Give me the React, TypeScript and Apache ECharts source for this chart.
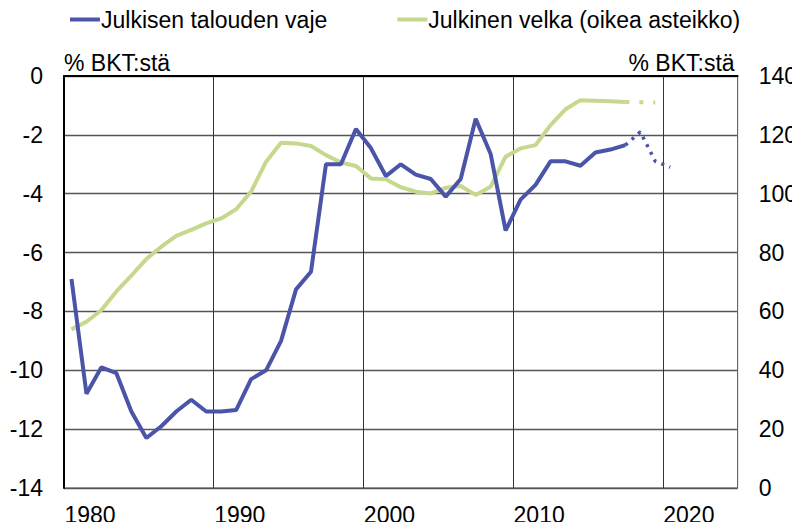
import React, { useEffect, useRef } from "react";
import * as echarts from "echarts";

const years = [
  "1980", "1981", "1982", "1983", "1984", "1985", "1986", "1987", "1988", "1989",
  "1990", "1991", "1992", "1993", "1994", "1995", "1996", "1997", "1998", "1999",
  "2000", "2001", "2002", "2003", "2004", "2005", "2006", "2007", "2008", "2009",
  "2010", "2011", "2012", "2013", "2014", "2015", "2016", "2017", "2018", "2019",
  "2020", "2021", "2022", "2023", "2024",
];

// Julkisen talouden vaje, % BKT:stä (1980–2017)
const deficit = [
  -6.9, -10.8, -9.9, -10.1, -11.4, -12.3, -11.9, -11.4, -11.0, -11.4,
  -11.4, -11.35, -10.3, -10.0, -9.0, -7.25, -6.65, -3.0, -3.0, -1.8,
  -2.45, -3.4, -3.0, -3.35, -3.5, -4.1, -3.5, -1.45, -2.65, -5.25,
  -4.2, -3.7, -2.9, -2.9, -3.05, -2.6, -2.5, -2.35,
];
// ennuste 2017–2020
const deficitForecastStart = "2017";
const deficitForecast = [-2.35, -1.9, -2.9, -3.1];

// Julkinen velka, % BKT:stä (1980–2017)
const debt = [
  53.9, 56.5, 60.5, 66.8, 72.2, 77.8, 82.0, 85.7, 87.7, 89.9,
  91.6, 94.7, 100.7, 110.9, 117.3, 117.1, 116.2, 113.1, 110.6, 109.4,
  105.2, 104.9, 102.2, 100.7, 100.1, 102.0, 102.6, 99.6, 102.4, 112.6,
  115.4, 116.5, 123.3, 128.7, 131.8, 131.6, 131.4, 131.2,
];
// ennuste 2017–2019
const debtForecastStart = "2017";
const debtForecast = [131.2, 131.1, 131.0];

const leftTicks = { min: -14, max: 0, interval: 2 };
const rightTicks = { min: 0, max: 140, interval: 20 };

const nameDeficit = "Julkisen talouden vaje";
const nameDebt = "Julkinen velka (oikea asteikko)";
const unitLabel = "% BKT:stä";

const BLUE = "#4A54A8";
const GREEN = "#C5D88E";
const FONT = "'Liberation Sans', Arial, sans-serif";

function place(values: number[], startYear: string): (number | null)[] {
  const start = years.indexOf(startYear);
  return years.map((_, i) =>
    i >= start && i - start < values.length ? values[i - start] : null
  );
}

export default function App() {
  const ref = useRef<HTMLDivElement>(null);
  useEffect(() => {
    if (!ref.current) return;
    const chart = echarts.init(ref.current, null, { renderer: "svg" });
    const textBase = { color: "#000", fontFamily: FONT, fontSize: 23 };
    chart.setOption({
      animation: false,
      backgroundColor: "#fff",
      textStyle: { fontFamily: FONT },
      legend: {
        data: [nameDeficit, nameDebt],
        left: 65,
        top: 3,
        icon: "rect",
        itemWidth: 30,
        itemHeight: 4,
        itemGap: 70,
        textStyle: { ...textBase, padding: [0, 0, 0, -4] },
      },
      grid: {
        left: 64,
        right: 60,
        top: 76,
        bottom: 42,
        show: true,
        borderColor: "#555",
        borderWidth: 1,
      },
      xAxis: {
        type: "category",
        data: years,
        boundaryGap: true,
        axisLine: { show: true, lineStyle: { color: "#000", width: 2 } },
        axisTick: { show: false },
        axisLabel: {
          ...textBase,
          interval: (i: number) => i % 10 === 0,
          align: "left",
          padding: [0, 0, 0, -7],
          margin: 15,
        },
        splitLine: {
          show: true,
          interval: (i: number) => i % 10 === 0,
          lineStyle: { color: "#333", width: 1 },
        },
      },
      yAxis: [
        {
          type: "value",
          position: "left",
          ...leftTicks,
          name: unitLabel,
          nameLocation: "end",
          nameGap: 2,
          nameTextStyle: { ...textBase, align: "left", verticalAlign: "bottom" },
          axisLine: { show: true, lineStyle: { color: "#000", width: 2 } },
          axisTick: { show: false },
          axisLabel: { ...textBase, margin: 21 },
          splitLine: { show: true, lineStyle: { color: "#555", width: 1.3 } },
        },
        {
          type: "value",
          position: "right",
          ...rightTicks,
          name: unitLabel,
          nameLocation: "end",
          nameGap: 2,
          nameTextStyle: {
            ...textBase,
            align: "right",
            verticalAlign: "bottom",
            padding: [0, 3, 0, 0],
          },
          axisLine: { show: true, lineStyle: { color: "#666", width: 1 } },
          axisTick: { show: false },
          axisLabel: { ...textBase, margin: 21 },
          splitLine: { show: false },
        },
      ],
      series: [
        {
          name: nameDeficit,
          type: "line",
          yAxisIndex: 0,
          data: place(deficit, years[0]),
          symbol: "none",
          color: BLUE,
          lineStyle: { color: BLUE, width: 4 },
          z: 3,
        },
        {
          name: nameDeficit + " ennuste",
          type: "line",
          yAxisIndex: 0,
          data: place(deficitForecast, deficitForecastStart),
          symbol: "none",
          color: BLUE,
          lineStyle: { color: BLUE, width: 3.5, type: [3, 5.5] },
          z: 3,
        },
        {
          name: nameDebt,
          type: "line",
          yAxisIndex: 1,
          data: place(debt, years[0]),
          symbol: "none",
          color: GREEN,
          lineStyle: { color: GREEN, width: 4 },
          z: 2,
        },
        {
          name: nameDebt + " ennuste",
          type: "line",
          yAxisIndex: 1,
          data: place(debtForecast, debtForecastStart),
          symbol: "none",
          color: GREEN,
          lineStyle: { color: GREEN, width: 4, type: [4, 10] },
          z: 2,
        },
      ],
    });
    return () => chart.dispose();
  }, []);
  return <div ref={ref} style={{ width: 800, height: 530, margin: -8 }} />;
}
